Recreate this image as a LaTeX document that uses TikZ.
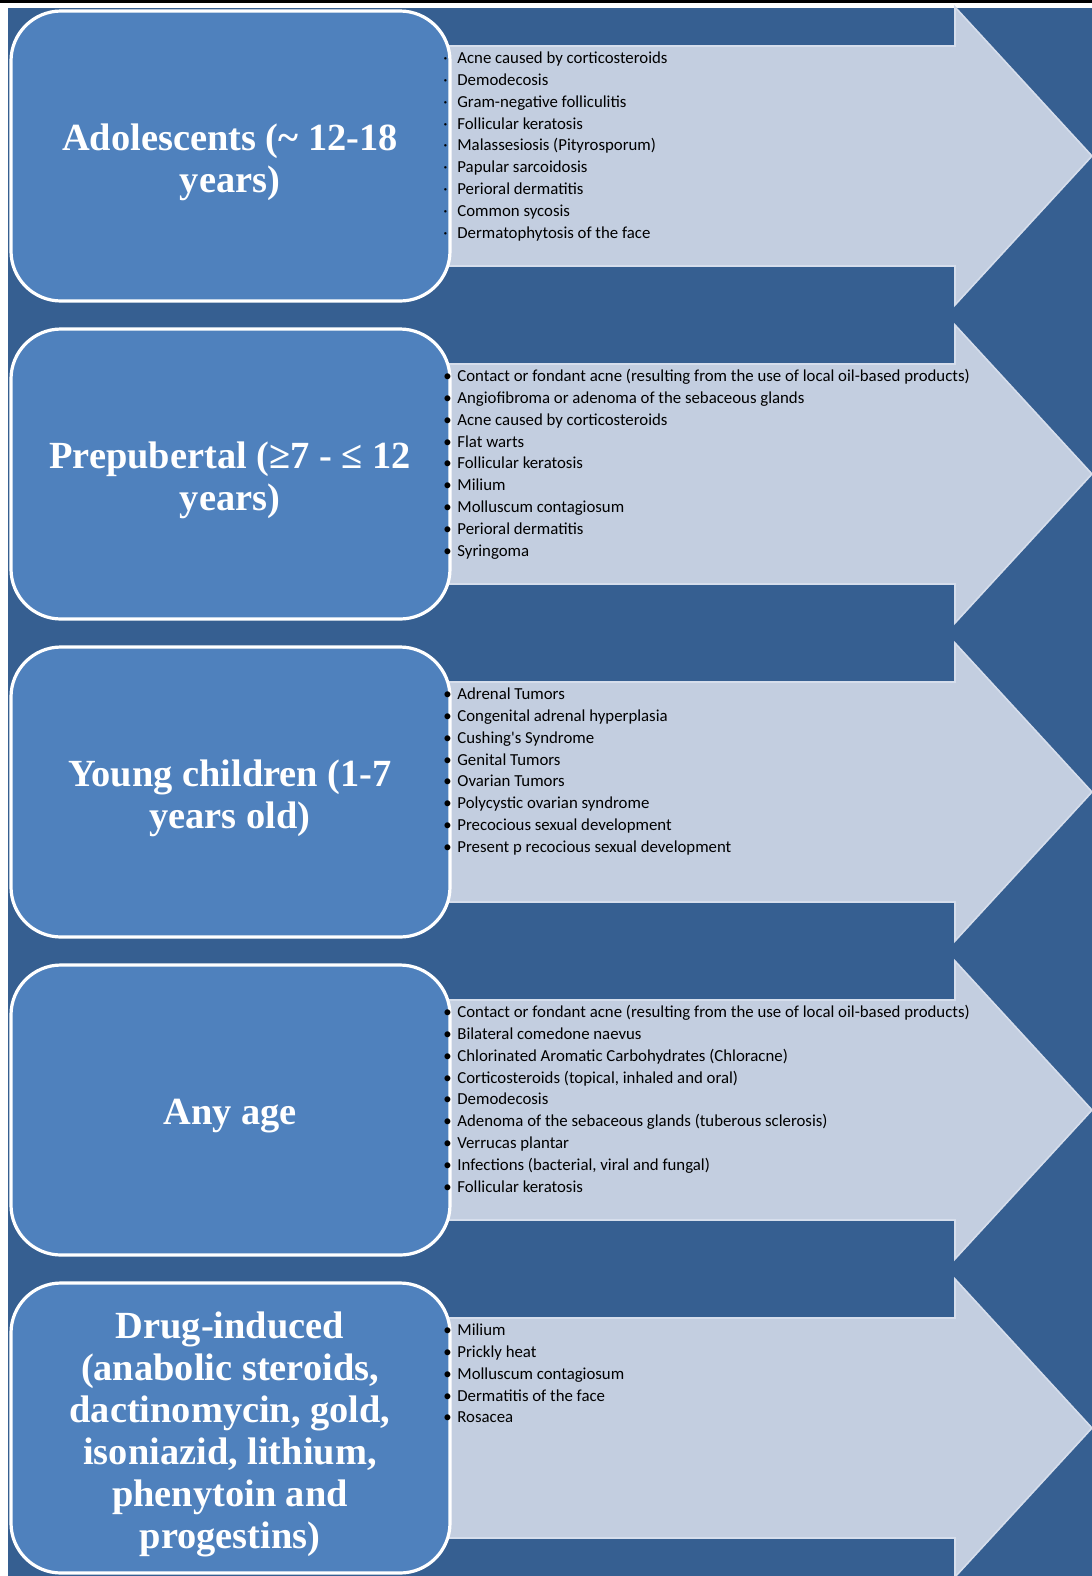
\documentclass[tikz,border=0pt]{standalone}
\usepackage{fontspec}
\setmainfont{Liberation Serif}
\newfontfamily\listfont{Carlito}

\definecolor{bgblue}{RGB}{54,95,145}
\definecolor{boxblue}{RGB}{79,129,189}
\definecolor{arrowfill}{RGB}{195,206,224}
\definecolor{arrowline}{RGB}{214,222,236}

\newcommand{\itm}{\makebox[7pt][l]{\textbullet}}
\newcommand{\dotitm}{\makebox[7pt][l]{\textperiodcentered}}

\begin{document}
\begin{tikzpicture}[x=0.5pt, y=-0.5pt,
  agebox/.style={draw=white, line width=1.6pt, fill=boxblue, rounded corners=25pt},
  agetitle/.style={text=white, align=center, inner sep=0pt, yshift=-3pt,
    font=\bfseries\fontsize{19.2}{21}\selectfont},
  causelist/.style={anchor=north west, align=left, inner sep=0pt,
    font=\listfont\fontsize{8.4}{10.9}\selectfont},
  bigarrow/.style={fill=arrowfill, draw=arrowline, line width=0.8pt}]
  \useasboundingbox (0,0) rectangle (1092,1576);
  \clip (0,0) rectangle (1092,1576);
  \fill[black] (0,0) rectangle (1092,2.5);
  \fill[bgblue] (8,8) rectangle (1092,1576);

  % one row every 318 units, centred on the box
  \coordinate (adol) at (230,156);
  \coordinate (prepub) at (230,474);
  \coordinate (young) at (230,792);
  \coordinate (anyage) at (230,1110);
  \coordinate (drug) at (230,1428);

  % arrows
  \draw[bigarrow] (adol) ++(170,-110) -- ++(555,0) -- ++(0,-39) -- ++(137,149)
    -- ++(-137,149) -- ++(0,-39) -- ++(-555,0) -- cycle;
  \draw[bigarrow] (prepub) ++(170,-110) -- ++(555,0) -- ++(0,-39) -- ++(137,149)
    -- ++(-137,149) -- ++(0,-39) -- ++(-555,0) -- cycle;
  \draw[bigarrow] (young) ++(170,-110) -- ++(555,0) -- ++(0,-39) -- ++(137,149)
    -- ++(-137,149) -- ++(0,-39) -- ++(-555,0) -- cycle;
  \draw[bigarrow] (anyage) ++(170,-110) -- ++(555,0) -- ++(0,-39) -- ++(137,149)
    -- ++(-137,149) -- ++(0,-39) -- ++(-555,0) -- cycle;
  \draw[bigarrow] (drug) ++(170,-110) -- ++(555,0) -- ++(0,-39) -- ++(137,149)
    -- ++(-137,149) -- ++(0,-39) -- ++(-555,0) -- cycle;

  % boxes
  \draw[agebox] (adol) ++(-219,-145) rectangle ++(439,290);
  \draw[agebox] (prepub) ++(-219,-145) rectangle ++(439,290);
  \draw[agebox] (young) ++(-219,-145) rectangle ++(439,290);
  \draw[agebox] (anyage) ++(-219,-145) rectangle ++(439,290);
  \draw[agebox] (drug) ++(-219,-145) rectangle ++(439,290);

  \node[agetitle] (adoltitle) at (adol) {Adolescents (\textasciitilde\ 12-18\\years)};
  \node[agetitle] (prepubtitle) at (prepub) {Prepubertal (≥7 - ≤ 12\\years)};
  \node[agetitle] (youngtitle) at (young) {Young children (1-7\\years old)};
  \node[agetitle] (anyagetitle) at (anyage) {Any age};
  \node[agetitle] (drugtitle) at (drug) {Drug-induced\\(anabolic steroids,\\dactinomycin, gold,\\isoniazid, lithium,\\phenytoin and\\progestins)};

  % lists
  \node[causelist] (adollist) at ([shift={(213,-108)}]adol) {\strut\dotitm Acne caused by corticosteroids\\
    \dotitm Demodecosis\\
    \dotitm Gram-negative folliculitis\\
    \dotitm Follicular keratosis\\
    \dotitm Malassesiosis (Pityrosporum)\\
    \dotitm Papular sarcoidosis\\
    \dotitm Perioral dermatitis\\
    \dotitm Common sycosis\\
    \dotitm Dermatophytosis of the face};
  \node[causelist] (prepublist) at ([shift={(213,-108)}]prepub) {\strut\itm Contact or fondant acne (resulting from the use of local oil-based products)\\
    \itm Angiofibroma or adenoma of the sebaceous glands\\
    \itm Acne caused by corticosteroids\\
    \itm Flat warts\\
    \itm Follicular keratosis\\
    \itm Milium\\
    \itm Molluscum contagiosum\\
    \itm Perioral dermatitis\\
    \itm Syringoma};
  \node[causelist] (younglist) at ([shift={(213,-108)}]young) {\strut\itm Adrenal Tumors\\
    \itm Congenital adrenal hyperplasia\\
    \itm Cushing's Syndrome\\
    \itm Genital Tumors\\
    \itm Ovarian Tumors\\
    \itm Polycystic ovarian syndrome\\
    \itm Precocious sexual development\\
    \itm Present p recocious sexual development};
  \node[causelist] (anyagelist) at ([shift={(213,-108)}]anyage) {\strut\itm Contact or fondant acne (resulting from the use of local oil-based products)\\
    \itm Bilateral comedone naevus\\
    \itm Chlorinated Aromatic Carbohydrates (Chloracne)\\
    \itm Corticosteroids (topical, inhaled and oral)\\
    \itm Demodecosis\\
    \itm Adenoma of the sebaceous glands (tuberous sclerosis)\\
    \itm Verrucas plantar\\
    \itm Infections (bacterial, viral and fungal)\\
    \itm Follicular keratosis};
  \node[causelist] (druglist) at ([shift={(213,-108)}]drug) {\strut\itm Milium\\
    \itm Prickly heat\\
    \itm Molluscum contagiosum\\
    \itm Dermatitis of the face\\
    \itm Rosacea};
\end{tikzpicture}
\end{document}
